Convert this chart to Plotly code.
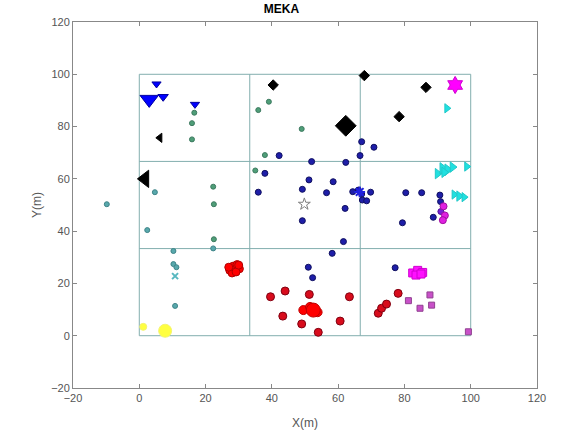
import plotly.graph_objects as go

# ---- data ----
grid_x = [0, 100, None, 0, 100, None, 0, 100, None, 0, 100, None,
          0, 0, None, 33.33, 33.33, None, 66.67, 66.67, None, 100, 100]
grid_y = [0, 0, None, 33.33, 33.33, None, 66.67, 66.67, None, 100, 100, None,
          0, 100, None, 0, 100, None, 0, 100, None, 0, 100]

green_x = [16.6, 15.9, 15.9, 35.9, 39.1, 49.0, 37.9, 35.0, 22.3, 22.5, 22.5]
green_y = [85.3, 81.3, 75.1, 86.3, 89.5, 79.1, 69.1, 63.2, 57.0, 50.3, 36.9]

teal_x = [-9.8, 4.7, 2.4, 10.3, 10.3, 11.2, 10.8, 22.3]
teal_y = [50.3, 54.9, 40.4, 32.4, 27.4, 26.2, 11.4, 33.4]
tealx_x = [10.8]
tealx_y = [22.8]

blue_x = [42.2, 37.9, 35.9, 52.0, 62.3, 67.1, 70.8, 66.6, 51.2, 58.5, 49.2, 56.5,
          64.4, 66.1, 67.1, 69.8, 67.3, 68.6, 62.1, 49.2, 61.6, 58.2, 51.0, 52.3,
          77.2, 80.4, 85.2, 79.4, 90.7, 90.9, 88.7]
blue_y = [68.9, 62.1, 54.9, 66.6, 66.3, 74.2, 72.1, 68.9, 59.6, 58.9, 56.0, 54.7,
          55.1, 55.7, 54.2, 54.9, 51.9, 51.6, 48.7, 44.0, 36.0, 31.5, 26.2, 22.2,
          26.0, 54.7, 54.7, 43.2, 53.8, 51.3, 45.3]
bluestar_x = [66.5]
bluestar_y = [55.0]

purple_x = [91.0]
purple_y = [47.5]
magdot_x = [91.8, 92.2, 91.6]
magdot_y = [49.5, 46.0, 44.2]

red_x = [27.3, 28.3, 29.5, 30.2, 28.0, 29.2, 27.0, 30.0]
red_y = [25.0, 26.6, 27.2, 25.6, 24.0, 24.4, 26.2, 27.0]
redbig_x = [49.5, 51.5, 53.8, 52.5]
redbig_y = [9.8, 11.0, 9.0, 9.8]
redbig_s = [9, 9, 9, 14]

dred_x = [39.6, 44.0, 51.3, 63.4, 43.3, 49.0, 54.0, 60.6, 72.1, 73.1, 74.6, 78.1]
dred_y = [14.9, 17.1, 15.8, 14.9, 7.5, 4.5, 1.3, 5.6, 8.6, 10.5, 12.1, 16.2]

magsq_x = [82.5, 84.0, 85.5, 83.5, 85.0]
magsq_y = [24.0, 25.0, 24.2, 23.2, 23.6]
pursq_x = [81.2, 84.7, 87.7, 88.2, 99.3]
pursq_y = [13.4, 10.5, 15.6, 11.7, 1.5]

cyan_x = [92.8, 90.0, 91.5, 93.0, 94.5, 92.0, 98.8, 95.0, 96.5, 98.0]
cyan_y = [87.0, 62.0, 64.0, 63.5, 64.5, 62.5, 64.7, 54.0, 53.4, 53.0]
cyan_s = [8, 9, 10, 10, 9, 9, 8, 8, 9, 8]

diam_x = [40.4, 67.9, 86.5, 78.4, 62.3]
diam_y = [95.9, 99.5, 95.0, 83.8, 80.3]
diam_s = [8, 8, 8, 8, 16]

vtri_x = [5.2, 3.0, 7.2, 16.8]
vtri_y = [96.3, 90.4, 91.4, 88.5]
vtri_s = [8, 16, 9, 8]

ltri_x = [6.2, 1.7]
ltri_y = [75.7, 60.0]
ltri_s = [8, 15]

hex_x = [95.3]
hex_y = [95.9]

yel_x = [1.2, 7.8]
yel_y = [3.4, 1.9]
yel_s = [7, 13]

star_x = [49.8]
star_y = [50.3]

ticks = [-20, 0, 20, 40, 60, 80, 100, 120]

fig = go.Figure()
fig.add_trace(go.Scatter(x=grid_x, y=grid_y, mode="lines",
                         line=dict(color="#82aeae", width=1)))

def pts(x, y, color, symbol="circle", size=6, edge=None, lw=1):
    fig.add_trace(go.Scatter(
        x=x, y=y, mode="markers",
        marker=dict(color=color, symbol=symbol, size=size, opacity=1,
                    line=dict(color=edge if edge else color, width=lw))))

pts(green_x, green_y, "#4f9e78", size=5, edge="#3d7a60")
pts(teal_x, teal_y, "#58a8ac", size=5, edge="#3f8488")
pts(tealx_x, tealx_y, "#58b8c0", symbol="x-thin-open", size=6, lw=2)
pts(blue_x, blue_y, "#1e1ea8", size=6, edge="#101060")
pts(bluestar_x, bluestar_y, "#2020e0", symbol="asterisk-open", size=9, lw=2)
pts(purple_x, purple_y, "#7a20d8", size=6, edge="#50109a")
pts(magdot_x, magdot_y, "#e020e0", size=7, edge="#a010a0")
pts(red_x, red_y, "#ff0000", size=8, edge="#b00000")
pts(redbig_x, redbig_y, "#ff0000", size=redbig_s, edge="#c00000")
pts(dred_x, dred_y, "#d80c1c", size=8, edge="#800010")
pts(magsq_x, magsq_y, "#ff10ff", symbol="square", size=8, edge="#d000d0")
pts(pursq_x, pursq_y, "#c850c8", symbol="square", size=6, edge="#904090")
pts(cyan_x, cyan_y, "#20e0e0", symbol="triangle-right", size=cyan_s, edge="#20c8c8")
pts(diam_x, diam_y, "#000000", symbol="diamond", size=diam_s)
pts(vtri_x, vtri_y, "#0000ff", symbol="triangle-down", size=vtri_s, edge="#0000a0")
pts(ltri_x, ltri_y, "#000000", symbol="triangle-left", size=ltri_s)
pts(hex_x, hex_y, "#ff00ff", symbol="hexagram", size=13, edge="#d000d0")
pts(yel_x, yel_y, "#ffff40", size=yel_s, edge="#f4f470")
pts(star_x, star_y, "#808080", symbol="star-open", size=9, lw=1)

axis_common = dict(tickvals=ticks, ticks="inside", ticklen=4, tickcolor="#888888",
                   showline=True, linecolor="#888888", linewidth=1, mirror="ticks",
                   showgrid=False, zeroline=False,
                   tickfont=dict(family="Liberation Sans, Arial", size=11, color="#555555"))

fig.update_layout(
    width=563, height=440,
    margin=dict(l=73, r=26, t=22, b=52),
    paper_bgcolor="white", plot_bgcolor="white",
    showlegend=False,
    title=dict(text="<b>MEKA</b>", x=0.5, xanchor="center", y=0.99, yanchor="top",
               font=dict(family="Liberation Sans, Arial", size=12, color="#000000")),
    xaxis=dict(range=[-20, 120], title=dict(text="X(m)", standoff=15,
               font=dict(family="Liberation Sans, Arial", size=12, color="#555555")),
               **axis_common),
    yaxis=dict(range=[-20, 120], title=dict(text="Y(m)", standoff=6,
               font=dict(family="Liberation Sans, Arial", size=12, color="#555555")),
               **axis_common),
)

fig.write_html("out.html")
